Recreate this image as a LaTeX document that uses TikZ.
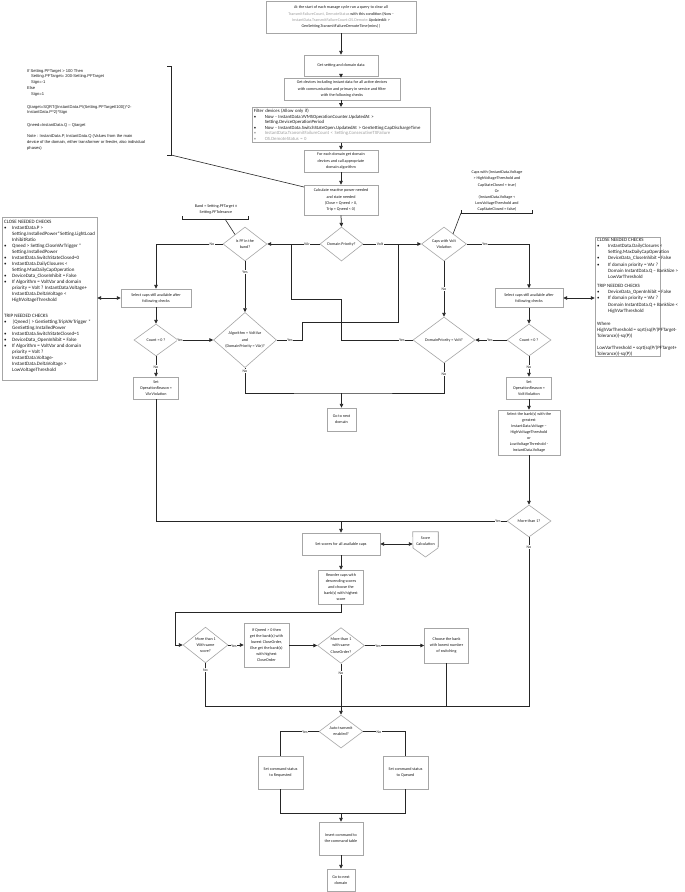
\documentclass[tikz,border=0pt]{standalone}
\usepackage{fontspec}
\setmainfont{Carlito}
\newfontfamily\arialf{Liberation Sans}
\usetikzlibrary{arrows.meta,shapes.geometric}
\definecolor{bord}{HTML}{A6A6A6}
\definecolor{lc}{HTML}{262626}
\definecolor{txt}{HTML}{1A1A1A}
\definecolor{gt}{HTML}{A0A0A0}
\newcommand\fMain{\fontsize{4.1}{6.1}\selectfont}
\newcommand\fNoteL{\fontsize{5.0}{6}\selectfont}
\newcommand\fNoteR{\fontsize{4.9}{6.2}\selectfont}
\newcommand\fFilt{\fontsize{4.75}{5.5}\selectfont}
\newcommand\fArial{\arialf\fontsize{4.1}{5.8}\selectfont}
\newcommand\fLab{\fontsize{3.9}{4}\selectfont}
\newcommand\bL{\makebox[8pt][l]{\textbullet}}
\newcommand\cL{\hspace*{8pt}}
\newcommand\bR{\makebox[11pt][l]{\textbullet}}
\newcommand\cR{\hspace*{11pt}}
\begin{document}
\begin{tikzpicture}[x=1pt,y=-1pt,
  box/.style={draw=bord,line width=0.6pt,fill=white,align=center,inner sep=0.5pt,font=\fMain,text=txt},
  dia/.style={draw=bord,line width=0.6pt,fill=white,align=center,inner sep=0pt,font=\fMain,text=txt,shape=diamond},
  ln/.style={draw=lc,line width=0.75pt},
  arr/.style={ln,-{Triangle[length=3.8pt,width=3.6pt]}},
  darr/.style={ln,{Triangle[length=3.8pt,width=3.6pt]}-{Triangle[length=3.8pt,width=3.6pt]}},
  lab/.style={fill=white,inner sep=0.6pt,font=\fLab,text=txt},
  brk/.style={draw=lc,line width=0.6pt}
  ]
\useasboundingbox[fill=white] (0,0) rectangle (685,892);

% ---------- main column top ----------
\node[box,minimum width=150pt,minimum height=32pt] (top) at (341,17)
 {At the start of each manage cycle run a query to clear all\\
  {\color{gt}TransmitFailureCount, DemoteStatus} with this condition (Now -\\
  {\color{gt}InstantData.TransmitFailureCount.OS.Demote.}UpdatedAt >\\
  GenSetting.TransmitFailureDemoteTime(mins) )};
\node[box,minimum width=74pt,minimum height=21pt] (getset) at (341,65.5) {Get setting and domain data};
\node[box,minimum width=116pt,minimum height=22pt] (getdev) at (342,89)
 {Get devices including instant data for all active devices\\
  with communication and primary in service and filter\\
  with the following checks};
\node[box,align=left,anchor=north west,text width=175pt,minimum height=35pt,inner sep=1.5pt,font=\fFilt] (filter) at (252,107)
 {Filter devices (Allow only if)\\
  \bR Now - InstantData.VVMSOperationCounter.UpdatedAt >\\
  \cR Setting.DeviceOperationPeriod\\
  \bR Now - InstantData.SwitchStateOpen.UpdatedAt > GenSetting.CapDischargeTime\\
  {\color{gt}\bR InstantData.TransmitFailureCount < Setting.ConsecutiveTXFailure}\\
  {\color{gt}\bR OS.DemoteStatus = 0}};
\node[box,minimum width=74pt,minimum height=22pt] (foreach) at (341,161)
 {For each domain get domain\\ devices and call appropriate\\ domain algorithm};
\node[box,minimum width=74pt,minimum height=30pt] (calc) at (341,200)
 {Calculate reactive power needed\\ and state needed\\ (Close = Qneed > 0,\\ Trip = Qneed < 0)};

% ---------- decision row ----------
\node[dia,minimum width=43pt,minimum height=34pt] (dp) at (341.5,244) {Domain Priority?};
\node[dia,minimum width=44pt,minimum height=34pt] (pf) at (245,244) {Is PF in the\\ band?};
\node[dia,minimum width=45pt,minimum height=34pt] (cvv) at (444,244) {Caps with Volt\\ Violation};

\node[box,minimum width=70pt,minimum height=18pt] (selL) at (156,298) {Select caps still available after\\ following checks};
\node[box,minimum width=68pt,minimum height=19pt] (selR) at (529,298) {Select caps still available after\\ following checks};

\node[dia,minimum width=44pt,minimum height=32pt] (cntL) at (156,340) {Count = 0 ?};
\node[dia,minimum width=63pt,minimum height=46pt] (alg) at (245,340) {Algorithm = VoltVar\\ and\\ (DomainPriority = VAr)?};
\node[dia,minimum width=62pt,minimum height=46pt] (dpv) at (444,340) {DomainPriority = Volt?};
\node[dia,minimum width=44pt,minimum height=32pt] (cntR) at (529,340) {Count = 0 ?};

\node[box,minimum width=45pt,minimum height=22pt] (setVAr) at (156,388) {Set\\ OperationReason =\\ VArViolation};
\node[box,minimum width=45pt,minimum height=22pt] (setVolt) at (529,388) {Set\\ OperationReason =\\ VoltViolation};
\node[box,minimum width=29pt,minimum height=23pt] (gonext1) at (341.5,419.5) {Go to next\\ domain};
\node[box,minimum width=62pt,minimum height=45pt] (selbank) at (529,432.5)
 {Select the bank(s) with the\\ greatest\\ InstantData.Voltage –\\ HighVoltageThreshold\\ or\\ LowVoltageThreshold -\\ InstantData.Voltage};
\node[dia,minimum width=44pt,minimum height=32pt] (more1) at (529,521) {More than 1?};

% ---------- lower part ----------
\node[box,minimum width=78pt,minimum height=22pt] (scores) at (341,544) {Set scores for all available caps};
\node[draw=bord,line width=0.6pt,fill=white,minimum width=25pt,minimum height=25pt,inner sep=0pt] (scorecalc) at (425.5,544.5) {};
\fill[white] (412,547) rectangle (439,560);
\draw[draw=bord,line width=0.6pt,fill=white] (scorecalc.north west) -- (scorecalc.north east) -- (438,548) -- (425.5,557) -- (413,548) -- cycle;
\node[font=\fMain,text=txt,align=center,inner sep=0pt] at (425.5,541) {Score\\ Calculation};

\node[box,minimum width=45pt,minimum height=34pt] (reorder) at (341,587)
 {Reorder caps with\\ descending scores\\ and choose the\\ bank(s) with highest\\ score};
\node[dia,minimum width=45pt,minimum height=34pt] (same) at (205.5,645) {More than 1\\ With same\\ score?};
\node[box,minimum width=45pt,minimum height=44pt] (ifq) at (266.5,645)
 {If Qneed > 0 then\\ get the bank(s) with\\ lowest CloseOrder,\\ Else get the bank(s)\\ with highest\\ CloseOrder};
\node[dia,minimum width=47pt,minimum height=33pt] (sameco) at (341,645.5) {More than 1\\ with same\\ CloseOrder?};
\node[box,minimum width=44pt,minimum height=35pt] (choose) at (446.5,645.5) {Choose the bank\\ with lowest number\\ of switching};
\node[dia,minimum width=44pt,minimum height=33pt] (auto) at (341,731.5) {Auto transmit\\ enabled?};
\node[box,minimum width=45pt,minimum height=33pt] (req) at (280.5,772.5) {Set command status\\ to Requested};
\node[box,minimum width=45pt,minimum height=33pt] (queued) at (405.5,772.5) {Set command status\\ to Queued};
\node[box,minimum width=44pt,minimum height=33pt] (insert) at (341,838.5) {Insert command to\\ the command table};
\node[box,minimum width=28pt,minimum height=22pt] (gonext2) at (341,880) {Go to next\\ domain};

% ---------- notes ----------
\node[draw=bord,line width=0.6pt,fill=white,minimum width=95pt,minimum height=163pt,inner sep=0pt] (noteL) at (49.5,298.5) {};
\node[anchor=north west,align=left,inner sep=0pt,font=\fNoteL,text=txt] at (4,220.5)
 {CLOSE NEEDED CHECKS\\
  \bL InstantData.P >\\
  \cL Setting.InstalledPower*Setting.LightLoad\\
  \cL InhibitRatio\\
  \bL Qneed > Setting.CloseVArTrigger *\\
  \cL Setting.InstalledPower\\
  \bL InstantData.SwitchStateClosed=0\\
  \bL InstantData.DailyClosures <\\
  \cL Setting.MaxDailyCapOperation\\
  \bL DeviceData\_CloseInhibit = False\\
  \bL If Algorithm = VoltVar and domain\\
  \cL priority = Volt ? InstantData.Voltage+\\
  \cL InstantData.DeltaVoltage <\\
  \cL HighVoltageThreshold\\[10pt]
  TRIP NEEDED CHECKS\\
  \bL |Qneed| > GenSetting.TripVArTrigger *\\
  \cL GenSetting.InstalledPower\\
  \bL InstantData.SwitchStateClosed=1\\
  \bL DeviceData\_OpenInhibit = False\\
  \bL If Algorithm = VoltVar and domain\\
  \cL priority = Volt ?\\
  \cL InstantData.Voltage-\\
  \cL InstantData.DeltaVoltage >\\
  \cL LowVoltageThreshold};

\node[draw=bord,line width=0.6pt,fill=white,minimum width=65pt,minimum height=119pt,inner sep=0pt] (noteR) at (627.5,296.5) {};
\node[anchor=north west,align=left,inner sep=0pt,font=\fNoteR,text=txt] at (597,238)
 {CLOSE NEEDED CHECKS\\
  \bR InstantData.DailyClosures <\\
  \cR Setting.MaxDailyCapOperation\\
  \bR DeviceData\_CloseInhibit = False\\
  \bR If domain priority = VAr ?\\
  \cR Domain InstantData.Q – BankSize >\\
  \cR LowVarThreshold\\[2.8pt]
  TRIP NEEDED CHECKS\\
  \bR DeviceData\_OpenInhibit = False\\
  \bR If domain priority = VAr ?\\
  \cR Domain InstantData.Q + BankSize <\\
  \cR HighVarThreshold\\[6.6pt]
  Where\\
  HighVarThreshold = sqrt(sq(P/(PFTarget-\\
  Tolerance))-sq(P))\\[5.8pt]
  LowVarThreshold = sqrt(sq(P/(PFTarget+\\
  Tolerance))-sq(P))};

\node[anchor=north west,align=left,inner sep=0pt,font=\fArial,text=txt] (noteTL) at (27,69)
 {If Setting.PFTarget > 100 Then\\
  \hspace*{4pt}Setting.PFTarget= 200-Setting.PFTarget\\
  \hspace*{4pt}Sign=-1\\
  Else\\
  \hspace*{4pt}Sign=1\\[7pt]
  Qtarget=SQRT((InstantData.P/(Setting.PFTarget/100))\textasciicircum2-\\
  InstantData.P\textasciicircum2)*Sign\\[7pt]
  Qneed=InstantData.Q – Qtarget\\[5pt]
  Note : InstantData.P, InstantData.Q (Values from the main\\
  device of the domain, either transformer or feeder, also individual\\
  phases)};
\coordinate (tlb) at (171,155);
\coordinate (calcL) at (304,187);
\draw[brk] (167,66) -- (171,66) -- (tlb) -- (167,155);
\draw[brk] (tlb) -- (calcL);

\node[font=\fMain,text=txt,align=center,inner sep=0pt] (bandnote) at (216,209) {Band = Setting.PFTarget ±\\ Setting.PFTolerance};
\coordinate (bandb) at (225,219);
\draw[brk] (182,216) -- (182,219) -- (248,219) -- (248,216);
\draw[brk] (bandb) -- (235,234.5);

\node[font=\fMain,text=txt,align=center,inner sep=0pt] (capsnote) at (497,191)
 {Caps with (InstantData.Voltage\\ > HighVoltageThreshold and\\ CapStateClosed = true)\\ Or\\ (InstantData.Voltage <\\ LowVoltageThreshold and\\ CapStateClosed = false)};
\coordinate (capsb) at (461,213);
\draw[brk] (461,210) -- (capsb) -- (532,213) -- (532,210);
\draw[brk] (capsb) -- (453,234);

% ---------- connectors ----------
\draw[arr] (top.south) -- (getset.north);
\draw[arr] (getset.south) -- (getdev.north -| getset.south);
\draw[arr] (getdev.south -| getset.south) -- (filter.north -| getset.south);
\draw[arr] (filter.south -| getset.south) -- (foreach.north);
\draw[arr] (foreach.south) -- (calc.north);
\draw[arr] (calc.south) -- (dp.north);

\coordinate (jvar) at (291,244);
\coordinate (jvolt) at (398,244);
\draw[arr] (dp.west) -- (pf.east);
\draw[arr] (dp.east) -- (cvv.west);
\draw[arr] (pf.west) -| (selL.north);
\draw[arr] (pf.south) -- (alg.north);
\draw[darr] (noteL.east |- selL.west) -- (selL.west);
\draw[arr] (selL.south) -- (cntL.north);
\draw[arr] (cntL.east) -- (alg.west);
\draw[arr] (cntL.south) -- (setVAr.north);
% alg yes -> volt branch
\draw[ln] (alg.east) -- (302,340) -- (302,322) -- (398,322) -- (jvolt);
% dpv yes -> var branch
\draw[ln] (dpv.west) -- (341,340) -- (341,299) -- (291,299) -- (jvar);
% no branches to go next
\coordinate (jnext) at (341.5,393);
\draw[ln] (alg.south) |- (jnext) -| (dpv.south);
\draw[arr] (jnext) -- (gonext1.north);
\draw[arr] (cvv.south) -- (dpv.north);
\draw[arr] (cvv.east) -| (selR.north);
\draw[darr] (selR.east) -- (noteR.west |- selR.east);
\draw[arr] (selR.south) -- (cntR.north);
\draw[arr] (cntR.west) -- (dpv.east);
\draw[arr] (cntR.south) -- (setVolt.north);
\draw[arr] (setVolt.south) -- (selbank.north);
\draw[arr] (selbank.south) -- (more1.north);
\coordinate (jsc) at (341,521);
\draw[ln] (more1.west) -- (jsc);
\draw[ln] (setVAr.south) |- (jsc);
\draw[arr] (jsc) -- (scores.north);
\draw[darr] (scores.east) -- (scorecalc.west |- scores.east);
\draw[arr] (scores.south) -- (reorder.north);
\draw[arr] (reorder.south) -- (341,612) -- (175,612) |- (same.west);
\draw[arr] (same.east) -- (ifq.west |- same.east);
\draw[arr] (ifq.east |- sameco.west) -- (sameco.west);
\draw[arr] (sameco.east) -- (choose.west |- sameco.east);
\coordinate (jm) at (341,706);
\draw[ln] (same.south) |- (jm);
\draw[ln] (choose.south) |- (jm);
\draw[ln] (more1.south) |- (jm);
\draw[arr] (sameco.south) -- (auto.north);
\draw[ln] (auto.west) -| (req.north);
\draw[ln] (auto.east) -| (queued.north);
\coordinate (jb) at (341,813);
\draw[ln] (req.south) |- (jb);
\draw[ln] (queued.south) |- (jb);
\draw[arr] (jb) -- (insert.north);
\draw[arr] (insert.south) -- (gonext2.north);

% ---------- labels ----------
\node[lab] at (307,244) {VAr};
\node[lab] at (380,244) {Volt};
\node[lab] at (212,244) {No};
\node[lab] at (245,272) {Yes};
\node[lab] at (180,340) {Yes};
\node[lab] at (156,367) {No};
\node[lab] at (290,340) {Yes};
\node[lab] at (402,340) {Yes};
\node[lab] at (245,371) {No};
\node[lab] at (444,374) {No};
\node[lab] at (444,289) {No};
\node[lab] at (485,244) {Yes};
\node[lab] at (490,340) {Yes};
\node[lab] at (529,367) {No};
\node[lab] at (498,521) {Yes};
\node[lab] at (529,547) {No};
\node[lab] at (234,646) {Yes};
\node[lab] at (378,646) {Yes};
\node[lab] at (205.5,670) {No};
\node[lab] at (341,673) {No};
\node[lab] at (305,732) {Yes};
\node[lab] at (379,732) {No};
\end{tikzpicture}
\end{document}
